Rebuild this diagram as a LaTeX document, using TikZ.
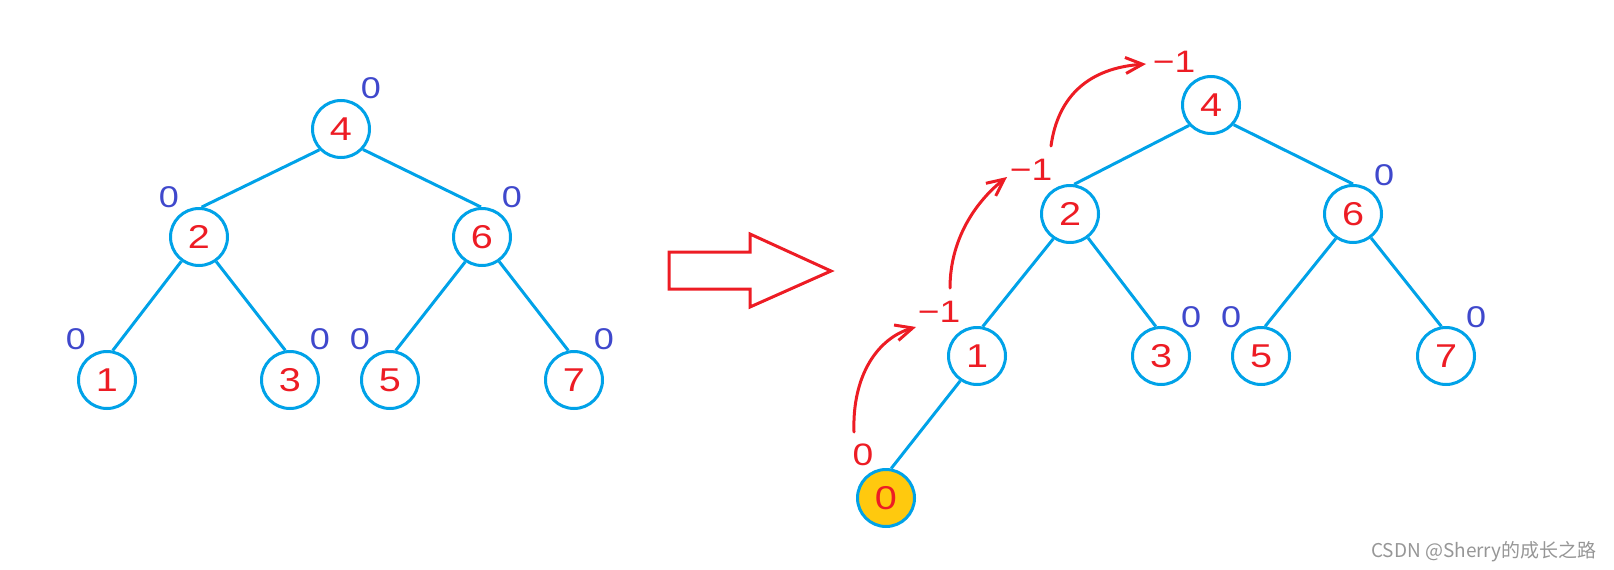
\documentclass[tikz,border=0pt]{standalone}
\usepackage{fontspec}
\setmainfont{Liberation Sans}
\newfontfamily\digitfont[FakeStretch=1.2]{Liberation Sans}
\newfontfamily\cjk{Noto Sans CJK SC}
\usetikzlibrary{arrows.meta}
\definecolor{pblue}{HTML}{00A2E8}
\definecolor{pred}{HTML}{ED1C24}
\definecolor{pindigo}{HTML}{3F48CC}
\definecolor{pgold}{HTML}{FFC90E}
\definecolor{wmark}{RGB}{150,150,150}
\begin{document}
\begin{tikzpicture}[x=1pt,y=-1pt,
  tnode/.style={circle, draw=pblue, line width=3pt, minimum size=57pt, inner sep=0pt, text=pred, font=\digitfont\fontsize{33}{33}\selectfont},
  edge/.style={draw=pblue, line width=3pt},
  bal/.style={text=pindigo, inner sep=0pt, font=\digitfont\fontsize{30}{30}\selectfont},
  rbal/.style={text=pred, inner sep=0pt, font=\digitfont\fontsize{31}{31}\selectfont},
  curvearrow/.style={draw=pred, line width=3pt, line cap=round, -{Straight Barb[length=17pt,width=16pt]}},
  blockarrow/.style={draw=pred, line width=3pt, line join=miter}]
\useasboundingbox (0,0) rectangle (1614,570);
% left tree
\node[tnode] (l4) at (341,129) {4};
\node[tnode] (l2) at (199,237) {2};
\node[tnode] (l6) at (482,237) {6};
\node[tnode] (l1) at (107,380) {1};
\node[tnode] (l3) at (290,380) {3};
\node[tnode] (l5) at (390,380) {5};
\node[tnode] (l7) at (574,380) {7};
\draw[edge] (l4.224) -- (l2.85);
\draw[edge] (l4.317) -- (l6.92);
\draw[edge] (l2.234) -- (l1.79);
\draw[edge] (l2.305) -- (l3.99);
\draw[edge] (l6.236) -- (l5.79);
\draw[edge] (l6.305) -- (l7.101);
\node[bal] (bl4) at (371,88) {0};
\node[bal] (bl2) at (169,197) {0};
\node[bal] (bl6) at (512,197) {0};
\node[bal] (bl1) at (76,339) {0};
\node[bal] (bl3) at (320,339) {0};
\node[bal] (bl5) at (360,339) {0};
\node[bal] (bl7) at (604,339) {0};
% block arrow
\draw[blockarrow] (669,252) -- (750,252) -- (750,234) -- (831,271) -- (750,307) -- (750,289) -- (669,289) -- cycle;
% right tree
\node[tnode] (r4) at (1211,105) {4};
\node[tnode] (r2) at (1070,214) {2};
\node[tnode] (r6) at (1353,214) {6};
\node[tnode] (r1) at (977,356) {1};
\node[tnode] (r3) at (1161,356) {3};
\node[tnode] (r5) at (1261,356) {5};
\node[tnode] (r7) at (1446,356) {7};
\node[tnode, fill=pgold] (r0) at (886,498) {0};
\draw[edge] (r4.223) -- (r2.82);
\draw[edge] (r4.319) -- (r6.90);
\draw[edge] (r2.236) -- (r1.79);
\draw[edge] (r2.307) -- (r3.100);
\draw[edge] (r6.235) -- (r5.82);
\draw[edge] (r6.307) -- (r7.99);
\draw[edge] (r1.236) -- (r0.80);
\node[bal] (br6) at (1384,175) {0};
\node[bal] (br3) at (1191,317) {0};
\node[bal] (br5) at (1231,317) {0};
\node[bal] (br7) at (1476,317) {0};
\node[rbal] (rr4) at (1174,62) {−1};
\node[rbal] (rr2) at (1031,170) {−1};
\node[rbal] (rr1) at (939,312) {−1};
\node[rbal] (rr0) at (863,455) {0};
% red curved arrows
\coordinate (a1s) at (854,432);
\coordinate (a1e) at (916,327);
\coordinate (a2s) at (950,288);
\coordinate (a2e) at (1007,177);
\coordinate (a3s) at (1051,146);
\coordinate (a3e) at (1146,64);
\draw[curvearrow] (a1s) .. controls (852,375) and (878,338) .. (a1e);
\draw[curvearrow] (a2s) .. controls (950,235) and (980,198) .. (a2e);
\draw[curvearrow] (a3s) .. controls (1058,95) and (1090,68) .. (a3e);
% watermark
\node[anchor=east, text=wmark, inner sep=0pt, font=\cjk\fontsize{19}{19}\selectfont] (wm) at (1597,552) {CSDN @Sherry的成长之路};
\end{tikzpicture}
\end{document}
